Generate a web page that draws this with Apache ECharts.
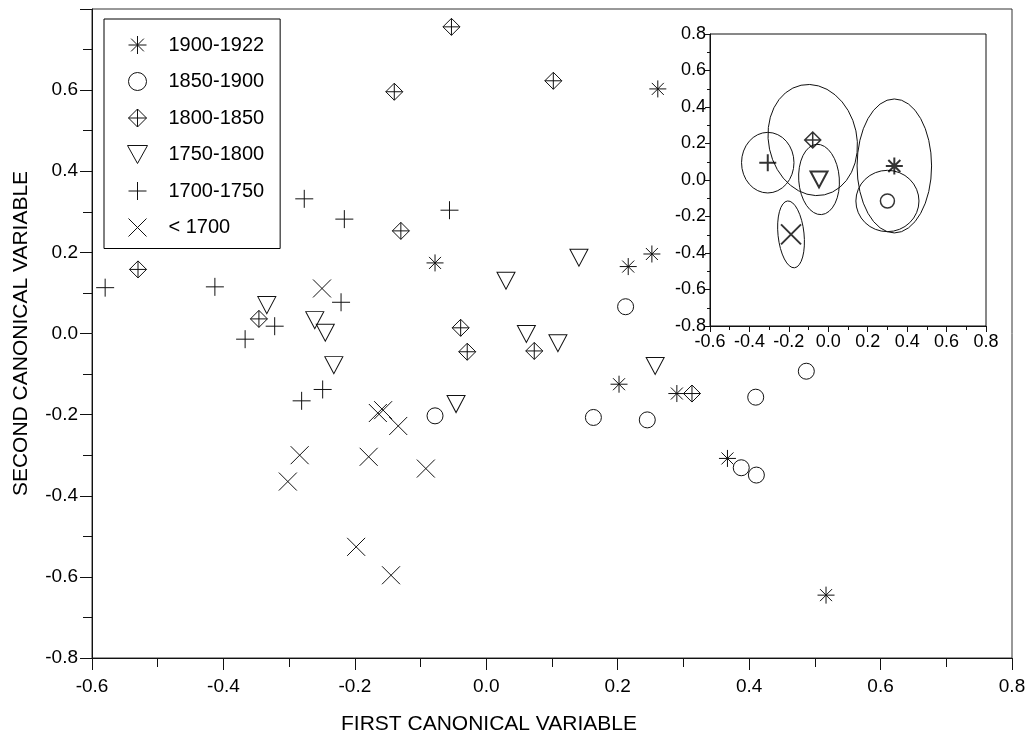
<!DOCTYPE html>
<html>
<head>
<meta charset="utf-8">
<script src="https://cdn.jsdelivr.net/npm/echarts@6/dist/echarts.min.js"></script>
<style>
  html, body { margin: 0; padding: 0; background: #fff; }
  #chart { width: 1035px; height: 740px; }
</style>
</head>
<body>
<div id="chart"></div>
<script>
// Period groups, in legend order
const periods = ['1900-1922', '1850-1900', '1800-1850', '1750-1800', '1700-1750', '< 1700'];

// Individual scores on the first two canonical variables
const x1900 = [0.261, -0.078, 0.216, 0.252, 0.202, 0.290, 0.367, 0.517];
const y1900 = [0.603, 0.174, 0.165, 0.196, -0.125, -0.148, -0.308, -0.645];

const x1850 = [0.212, -0.078, 0.163, 0.245, 0.410, 0.487, 0.388, 0.411];
const y1850 = [0.066, -0.203, -0.207, -0.213, -0.157, -0.093, -0.331, -0.349];

const x1800 = [-0.053, -0.140, 0.102, -0.130, -0.530, -0.346, -0.039, -0.029, 0.073, 0.313];
const y1800 = [0.756, 0.596, 0.623, 0.253, 0.158, 0.036, 0.014, -0.045, -0.043, -0.148];

const x1750 = [-0.334, -0.261, -0.245, -0.232, 0.030, 0.141, 0.061, 0.109, -0.046, 0.257];
const y1750 = [0.070, 0.033, 0.002, -0.078, 0.130, 0.187, -0.001, -0.024, -0.174, -0.080];

const x1700 = [-0.580, -0.413, -0.367, -0.322, -0.221, -0.277, -0.216, -0.056, -0.281, -0.249];
const y1700 = [0.113, 0.115, -0.014, 0.018, 0.077, 0.332, 0.282, 0.304, -0.166, -0.138];

const xPre1700 = [-0.250, -0.165, -0.157, -0.134, -0.284, -0.302, -0.179, -0.092, -0.198, -0.145];
const yPre1700 = [0.111, -0.196, -0.189, -0.228, -0.300, -0.365, -0.304, -0.333, -0.526, -0.596];

// Group means and their ellipse half-widths (data units) and tilt (degrees)
const meanX = [0.335, 0.300, -0.079, -0.047, -0.307, -0.189];
const meanY = [0.077, -0.115, 0.219, 0.003, 0.095, -0.298];
const ellRx = [0.189, 0.160, 0.224, 0.103, 0.133, 0.066];
const ellRy = [0.367, 0.168, 0.307, 0.193, 0.166, 0.184];
const ellTilt = [0, 0, -12, -4, 0, -6];

// Tick values shared by the axes
const xTicks = [-0.6, -0.4, -0.2, 0.0, 0.2, 0.4, 0.6, 0.8];
const yTicks = [-0.8, -0.6, -0.4, -0.2, 0.0, 0.2, 0.4, 0.6, 0.8];

const FONT = '"Liberation Sans", Arial, sans-serif';
const INK = '#111';

// Marker shapes, one per period
const symbols = [
  'path://M0,-1L0,1M-1,0L1,0M-0.7071,-0.7071L0.7071,0.7071M-0.7071,0.7071L0.7071,-0.7071',
  'circle',
  'path://M0,-1L1,0L0,1L-1,0ZM0,-1L0,1M-1,0L1,0',
  'path://M-1,-0.9L1,-0.9L0,0.9Z',
  'path://M0,-1L0,1M-1,0L1,0',
  'path://M-1,-1L1,1M-1,1L1,-1'
];
const mainSizes = [17, 16, 17, [18, 17], 18, 18];
const meanSizes = [17, 14, 16, [17, 16], 17, 20];
const meanWidths = [2, 1.5, 1.5, 2, 2, 2];

const groupX = [x1900, x1850, x1800, x1750, x1700, xPre1700];
const groupY = [y1900, y1850, y1800, y1750, y1700, yPre1700];

const fmt = v => (Math.abs(v) < 1e-9 ? 0 : v).toFixed(1);

function valueAxis(opts) {
  return Object.assign({
    type: 'value',
    axisLine: { show: true, onZero: false, lineStyle: { color: INK, width: 1 } },
    axisTick: { show: true, inside: false, length: 12, lineStyle: { color: INK, width: 1 } },
    minorTick: { show: true, splitNumber: 2, length: 9, lineStyle: { color: INK, width: 1 } },
    splitLine: { show: false },
    minorSplitLine: { show: false },
    axisLabel: { color: '#000', fontFamily: FONT, fontSize: 19, formatter: fmt }
  }, opts);
}

const series = [];
periods.forEach((name, i) => {
  series.push({
    name: name,
    type: 'scatter',
    xAxisIndex: 0,
    yAxisIndex: 0,
    symbol: symbols[i],
    symbolSize: mainSizes[i],
    itemStyle: { color: 'rgba(0,0,0,0)', borderColor: INK, borderWidth: 1, opacity: 1 },
    emphasis: { disabled: true },
    z: 2,
    data: groupX[i].map((x, k) => [x, groupY[i][k]])
  });
});

// Ellipses around the group means
series.push({
  name: 'ellipses',
  type: 'custom',
  xAxisIndex: 1,
  yAxisIndex: 1,
  z: 7,
  silent: true,
  data: meanX.map((x, i) => [x, meanY[i], ellRx[i], ellRy[i], ellTilt[i]]),
  encode: { x: 0, y: 1 },
  renderItem: function (params, api) {
    const c = api.coord([api.value(0), api.value(1)]);
    const s = api.size([api.value(2) * 2, api.value(3) * 2]);
    const rx = s[0] / 2, ry = s[1] / 2;
    const deg = api.value(4);
    const a = deg * Math.PI / 180;
    const dx = rx * Math.cos(a), dy = rx * Math.sin(a);
    const p1 = [c[0] - dx, c[1] - dy];
    const p2 = [c[0] + dx, c[1] + dy];
    const d = 'M' + p1[0] + ' ' + p1[1] +
      ' A' + rx + ' ' + ry + ' ' + deg + ' 1 0 ' + p2[0] + ' ' + p2[1] +
      ' A' + rx + ' ' + ry + ' ' + deg + ' 1 0 ' + p1[0] + ' ' + p1[1] + ' Z';
    return {
      type: 'path',
      shape: { pathData: d },
      style: { fill: 'none', stroke: INK, lineWidth: 1 }
    };
  }
});

// Group mean markers
series.push({
  name: 'means',
  type: 'scatter',
  xAxisIndex: 1,
  yAxisIndex: 1,
  z: 8,
  emphasis: { disabled: true },
  data: meanX.map((x, i) => ({
    value: [x, meanY[i]],
    symbol: symbols[i],
    symbolSize: meanSizes[i],
    itemStyle: { color: 'rgba(0,0,0,0)', borderColor: '#000', borderWidth: meanWidths[i] }
  }))
});

const option = {
  animation: false,
  backgroundColor: '#fff',
  textStyle: { fontFamily: FONT, color: '#000' },
  grid: [
    {
      left: 92, right: 23, top: 9, bottom: 82,
      show: true, borderColor: '#333', borderWidth: 1, backgroundColor: 'rgba(0,0,0,0)',
      outerBoundsMode: 'none', containLabel: false
    },
    {
      left: 710, right: 49, top: 34, bottom: 414,
      show: true, borderColor: INK, borderWidth: 1, backgroundColor: '#fff',
      z: 5, outerBoundsMode: 'none', containLabel: false
    }
  ],
  xAxis: [
    valueAxis({
      gridIndex: 0, min: xTicks[0], max: xTicks[xTicks.length - 1], interval: 0.2,
      name: 'FIRST CANONICAL VARIABLE', nameLocation: 'middle', nameGap: 56,
      nameTextStyle: { fontFamily: FONT, fontSize: 21, color: '#000', padding: [0, 126, 0, 0] },
      axisLabel: { color: '#000', fontFamily: FONT, fontSize: 19, margin: 19, formatter: fmt }
    }),
    valueAxis({
      gridIndex: 1, min: xTicks[0], max: xTicks[xTicks.length - 1], interval: 0.2, z: 6,
      axisTick: { show: true, length: 6, lineStyle: { color: INK } },
      minorTick: { show: true, splitNumber: 2, length: 4, lineStyle: { color: INK } },
      axisLabel: { color: '#000', fontFamily: FONT, fontSize: 18, margin: 7, formatter: fmt,
        showMinLabel: true, showMaxLabel: true, hideOverlap: false }
    })
  ],
  yAxis: [
    valueAxis({
      gridIndex: 0, min: yTicks[0], max: yTicks[yTicks.length - 1], interval: 0.2,
      name: 'SECOND CANONICAL VARIABLE', nameLocation: 'middle', nameGap: 60, nameRotate: 90,
      nameTextStyle: { fontFamily: FONT, fontSize: 21, color: '#000' },
      axisLabel: { color: '#000', fontFamily: FONT, fontSize: 19, margin: 14, formatter: fmt,
        showMaxLabel: false }
    }),
    valueAxis({
      gridIndex: 1, min: yTicks[0], max: yTicks[yTicks.length - 1], interval: 0.2, z: 6,
      axisTick: { show: true, length: 5, lineStyle: { color: INK } },
      minorTick: { show: true, splitNumber: 2, length: 3, lineStyle: { color: INK } },
      axisLabel: { color: '#000', fontFamily: FONT, fontSize: 18, margin: 4, formatter: fmt,
        showMinLabel: true, showMaxLabel: true, hideOverlap: false }
    })
  ],
  legend: {
    data: periods,
    orient: 'vertical',
    left: 104,
    top: 19,
    itemWidth: 52,
    itemHeight: 18,
    itemGap: 16.5,
    padding: [16, 16, 11, 23],
    borderColor: '#000',
    borderWidth: 1,
    backgroundColor: '#fff',
    selectedMode: false,
    itemStyle: { borderWidth: 1, borderColor: INK },
    textStyle: { fontFamily: FONT, fontSize: 20, color: '#000' }
  },
  series: series
};

const chart = echarts.init(document.getElementById('chart'), null, { renderer: 'canvas' });
chart.setOption(option);
</script>
</body>
</html>
